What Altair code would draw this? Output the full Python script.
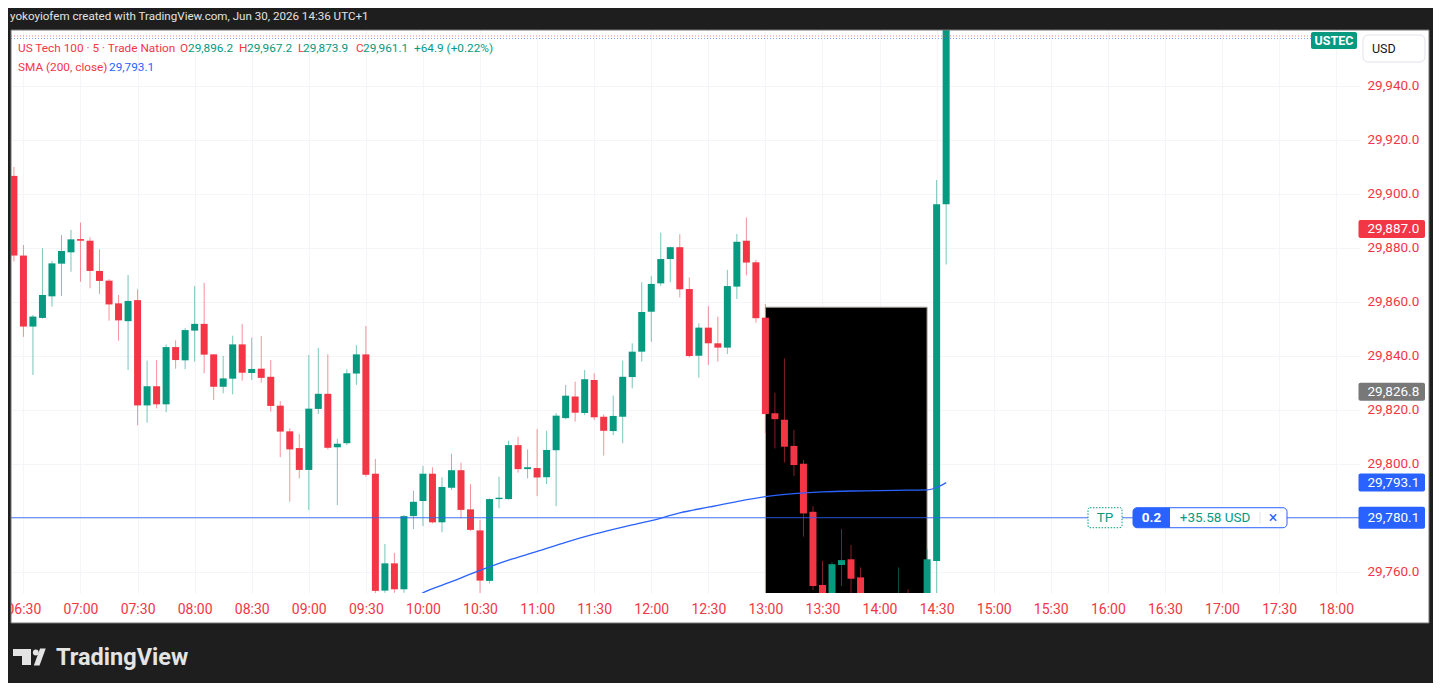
import altair as alt
import pandas as pd

# ------------------------------------------------------------------ data
times = ["06:25", "06:30", "06:35", "06:40", "06:45", "06:50", "06:55", "07:00", "07:05", "07:10",
         "07:15", "07:20", "07:25", "07:30", "07:35", "07:40", "07:45", "07:50", "07:55", "08:00",
         "08:05", "08:10", "08:15", "08:20", "08:25", "08:30", "08:35", "08:40", "08:45", "08:50",
         "08:55", "09:00", "09:05", "09:10", "09:15", "09:20", "09:25", "09:30", "09:35", "09:40",
         "09:45", "09:50", "09:55", "10:00", "10:05", "10:10", "10:15", "10:20", "10:25", "10:30",
         "10:35", "10:40", "10:45", "10:50", "10:55", "11:00", "11:05", "11:10", "11:15", "11:20",
         "11:25", "11:30", "11:35", "11:40", "11:45", "11:50", "11:55", "12:00", "12:05", "12:10",
         "12:15", "12:20", "12:25", "12:30", "12:35", "12:40", "12:45", "12:50", "12:55", "13:00",
         "13:05", "13:10", "13:15", "13:20", "13:25", "13:30", "13:35", "13:40", "13:45", "13:50",
         "13:55", "14:00", "14:05", "14:10", "14:15", "14:20", "14:25", "14:30", "14:35"]
opens = [29906.7, 29877.2, 29850.9, 29854.1, 29862.1, 29874.2, 29878.4, 29883.3, 29882.7, 29871.5,
         29867.9, 29859.5, 29852.9, 29860.7, 29821.7, 29828.8, 29822.1, 29843.3, 29838.4, 29849.4,
         29851.9, 29840.6, 29828.6, 29831.6, 29844.3, 29833.7, 29835.3, 29832.3, 29821.6, 29812.1,
         29805.9, 29797.8, 29820.4, 29826.0, 29806.2, 29807.7, 29833.5, 29840.6, 29796.4, 29753.1,
         29763.2, 29753.6, 29780.7, 29786.3, 29796.4, 29778.4, 29791.2, 29797.7, 29783.2, 29775.4,
         29756.7, 29787.0, 29787.0, 29807.0, 29798.1, 29798.5, 29795.1, 29805.1, 29817.0, 29825.0,
         29818.9, 29831.1, 29817.5, 29812.2, 29817.5, 29832.2, 29841.6, 29856.4, 29866.9, 29875.9,
         29880.3, 29864.8, 29840.1, 29850.5, 29844.7, 29843.1, 29865.7, 29882.7, 29874.7, 29854.2,
         29818.8, 29816.4, 29806.7, 29800.1, 29782.3, 29755.2, 29742.5, 29762.6, 29764.7, 29758.0,
         29744.0, 29732.0, 29740.0, 29736.0, 29750.0, 29742.0, 29745.0, 29764.1, 29896.2]
highs = [29910.0, 29881.1, 29855.2, 29879.9, 29875.2, 29884.8, 29886.7, 29889.4, 29884.0, 29879.5,
         29868.5, 29862.6, 29870.0, 29864.7, 29838.3, 29838.5, 29844.3, 29845.8, 29850.3, 29865.9,
         29867.1, 29840.7, 29840.0, 29847.5, 29851.9, 29846.8, 29847.4, 29838.5, 29823.3, 29813.2,
         29811.1, 29840.4, 29843.0, 29840.6, 29809.3, 29835.1, 29844.0, 29851.1, 29801.9, 29770.4,
         29767.1, 29781.1, 29790.1, 29799.3, 29798.8, 29795.1, 29803.8, 29800.5, 29792.5, 29779.3,
         29787.2, 29795.3, 29808.6, 29810.1, 29805.4, 29812.9, 29812.3, 29818.8, 29829.3, 29830.5,
         29834.8, 29833.6, 29818.3, 29825.3, 29838.3, 29844.7, 29867.3, 29869.6, 29885.7, 29880.5,
         29885.1, 29869.1, 29852.1, 29858.5, 29854.6, 29871.9, 29885.2, 29891.3, 29875.6, 29859.3,
         29826.4, 29839.1, 29812.6, 29801.5, 29784.4, 29764.1, 29763.6, 29775.9, 29770.0, 29761.7,
         29750.0, 29745.0, 29748.0, 29761.7, 29753.6, 29749.0, 29768.4, 29905.2, 29967.2]
lows = [29875.0, 29847.1, 29833.0, 29853.8, 29858.3, 29862.2, 29871.2, 29867.5, 29865.1, 29863.0,
        29853.1, 29845.7, 29834.8, 29814.4, 29815.3, 29820.6, 29819.1, 29835.3, 29835.1, 29837.9,
        29833.6, 29823.7, 29826.2, 29825.8, 29830.9, 29831.1, 29830.1, 29819.4, 29802.5, 29786.0,
        29794.7, 29783.0, 29818.5, 29805.4, 29784.8, 29807.0, 29829.3, 29795.3, 29751.5, 29752.3,
        29752.3, 29752.3, 29775.9, 29777.0, 29778.0, 29774.7, 29790.4, 29779.9, 29775.2, 29751.0,
        29755.8, 29783.6, 29786.8, 29796.8, 29794.7, 29788.1, 29792.6, 29784.4, 29816.6, 29815.7,
        29818.1, 29816.3, 29803.1, 29810.7, 29807.7, 29828.0, 29837.9, 29845.3, 29866.0, 29867.3,
        29861.7, 29839.5, 29832.0, 29836.7, 29837.9, 29840.7, 29861.1, 29869.9, 29852.3, 29811.4,
        29805.8, 29800.5, 29795.6, 29773.1, 29753.3, 29738.0, 29740.0, 29754.8, 29750.5, 29740.0,
        29728.0, 29725.0, 29733.0, 29734.0, 29738.0, 29735.0, 29740.0, 29748.0, 29873.9]
closes = [29877.2, 29850.9, 29854.6, 29862.6, 29874.3, 29878.9, 29883.2, 29882.7, 29871.5, 29867.8,
          29859.1, 29853.2, 29860.4, 29821.7, 29828.8, 29822.1, 29843.3, 29838.5, 29849.6, 29851.9,
          29840.5, 29828.6, 29831.7, 29844.3, 29833.8, 29835.2, 29831.9, 29821.5, 29812.0, 29805.4,
          29797.8, 29820.5, 29826.0, 29806.0, 29807.5, 29833.6, 29840.6, 29796.0, 29753.0, 29763.2,
          29753.6, 29780.7, 29786.0, 29796.4, 29778.4, 29791.5, 29797.7, 29783.0, 29775.6, 29756.8,
          29787.0, 29787.5, 29807.0, 29798.1, 29798.8, 29795.0, 29805.2, 29817.9, 29825.3, 29819.0,
          29831.4, 29817.3, 29812.3, 29817.8, 29832.3, 29841.6, 29856.3, 29866.7, 29875.9, 29880.3,
          29864.7, 29840.0, 29850.5, 29844.7, 29843.1, 29865.9, 29882.3, 29874.6, 29854.0, 29818.5,
          29816.6, 29806.4, 29799.6, 29781.7, 29754.8, 29742.5, 29762.9, 29764.4, 29757.5, 29744.0,
          29732.0, 29740.0, 29736.0, 29750.0, 29742.0, 29745.0, 29764.7, 29896.2, 29961.1]

sma_times = ["09:55", "10:00", "10:15", "10:30", "10:45", "11:00", "11:15", "11:30", "11:45", "12:00",
             "12:15", "12:30", "12:45", "13:00", "13:15", "13:30", "13:45", "14:00", "14:15", "14:25",
             "14:30", "14:35"]
sma_values = [29750.4, 29752.3, 29756.4, 29760.6, 29764.4, 29767.6, 29771.0, 29774.0, 29776.6, 29779.0,
              29781.9, 29784.0, 29786.1, 29787.9, 29789.0, 29789.7, 29790.0, 29790.1, 29790.3, 29790.4,
              29791.3, 29793.1]

x_ticks = ["06:30", "07:00", "07:30", "08:00", "08:30", "09:00", "09:30", "10:00", "10:30", "11:00",
           "11:30", "12:00", "12:30", "13:00", "13:30", "14:00", "14:30", "15:00", "15:30", "16:00",
           "16:30", "17:00", "17:30", "18:00"]
y_ticks = [29760, 29780, 29800, 29820, 29840, 29860, 29880, 29900, 29920, 29940]

box_times = ["13:00", "14:25"]
box_prices = [29858.1, 29740.0]

tag_prices = [29887.0, 29826.8, 29793.1, 29780.1]
tag_kinds = ["alert", "mark", "sma", "order"]

order_price = 29780.1
order_qty = "0.2"
order_pnl = "+35.58 USD"

header_text = "yokoyiofem created with TradingView.com, Jun 30, 2026 14:36 UTC+1"
symbol_text = "US Tech 100 \u00b7 5 \u00b7 Trade Nation"
sma_text = "SMA (200, close)"

# ------------------------------------------------------------------ style
RED, GREEN, BLUE, DARK = "#f23645", "#089981", "#2962ff", "#1e1e1e"
FONT = "Roboto"
LEG = 11.8
GRID = "#f4f5f8"
W, H = 1349, 563
X_DOM = [386.1, 1089.9]
Y_DOM = [29752.22, 29960.74]
PPT = H / (Y_DOM[1] - Y_DOM[0])


def tmin(s):
    h, m = s.split(":")
    return int(h) * 60 + int(m)


cdf = pd.DataFrame({"t": [tmin(s) for s in times], "o": opens, "h": highs, "l": lows, "c": closes})
cdf["dir"] = ["up" if c >= o else "down" for o, c in zip(opens, closes)]
sdf = pd.DataFrame({"t": [tmin(s) for s in sma_times], "v": sma_values})
bdf = pd.DataFrame({"t0": [tmin(box_times[0])], "t1": [tmin(box_times[1])],
                    "p0": [box_prices[0]], "p1": [box_prices[1]]})

tag_color = {"alert": RED, "mark": "#787878", "sma": BLUE, "order": BLUE}
tag_h = {"alert": 18, "mark": 18, "sma": 18, "order": 22}
tdf = pd.DataFrame({"p": tag_prices, "kind": tag_kinds})
tdf["col"] = [tag_color[k] for k in tag_kinds]
tdf["top"] = [p + tag_h[k] / 2 / PPT for p, k in zip(tag_prices, tag_kinds)]
tdf["bot"] = [p - tag_h[k] / 2 / PPT for p, k in zip(tag_prices, tag_kinds)]
tdf["label"] = [f"{p:,.1f}" for p in tag_prices]

odf = pd.DataFrame({"p": [order_price], "top": [order_price + 10 / PPT], "bot": [order_price - 10 / PPT],
                    "stop": [order_price + 6 / PPT], "sbot": [order_price - 6 / PPT]})

one = pd.DataFrame({"k": [0]})

xs = alt.Scale(domain=X_DOM, nice=False, zero=False)
ys = alt.Scale(domain=Y_DOM, nice=False, zero=False)
dir_scale = alt.Scale(domain=["up", "down"], range=[GREEN, RED])

x_axis = alt.Axis(values=[tmin(s) for s in x_ticks],
                  labelExpr="(datum.value < 600 ? '0' : '') + floor(datum.value / 60) + ':' + (datum.value % 60 == 0 ? '00' : '30')",
                  labelColor=RED, labelFont=FONT, labelFontSize=14, labelBaseline="middle",
                  labelPadding=16, ticks=True, tickSize=0, domain=False, grid=True,
                  gridColor=GRID, title=None, labelFlush=False, labelOverlap=False)
y_axis = alt.Axis(orient="right", values=y_ticks, format=",.1f", labelColor=RED, labelFont=FONT,
                  labelFontSize=13.5, labelAlign="left", labelBaseline="middle", labelPadding=7,
                  ticks=True, tickSize=0, domain=False, grid=True, gridColor=GRID,
                  title=None, labelOverlap=False)


def X(f):
    return alt.X(f, type="quantitative", scale=xs, axis=x_axis)


def Y(f):
    return alt.Y(f, type="quantitative", scale=ys, axis=y_axis)


def prect(x, x2, y, y2, **mk):
    return alt.Chart(one).mark_rect(**mk).encode(x=alt.value(x), x2=alt.value(x2),
                                                 y=alt.value(y), y2=alt.value(y2))


def ptext(x, y, s, **mk):
    base = dict(font=FONT, fontSize=LEG, align="left", baseline="middle")
    base.update(mk)
    return alt.Chart(one).mark_text(text=s, **base).encode(x=alt.value(x), y=alt.value(y))


# ------------------------------------------------------------------ layers
box = alt.Chart(bdf).mark_rect(color="black", stroke="#b3aca3", strokeWidth=1, clip=True).encode(
    x=X("t0"), x2="t1", y=Y("p0"), y2="p1")

wicks = alt.Chart(cdf).mark_rule(strokeWidth=1, opacity=0.55, clip=True).encode(
    x=X("t"), y=Y("l"), y2="h", color=alt.Color("dir:N", scale=dir_scale, legend=None))

bodies = alt.Chart(cdf).mark_bar(size=7, clip=True).encode(
    x=X("t"), y=Y("o"), y2="c", color=alt.Color("dir:N", scale=dir_scale, legend=None))

sma = alt.Chart(sdf).mark_line(color=BLUE, strokeWidth=1.3, clip=True, interpolate="monotone").encode(
    x=X("t"), y=Y("v"))

hline = alt.Chart(odf).mark_rule(color=BLUE, strokeWidth=1, opacity=0.85).encode(y=Y("p"))

dots_r = alt.Chart(one).mark_rule(color=RED, strokeDash=[1, 2], opacity=0.6).encode(
    x=alt.value(0), x2=alt.value(1300), y=alt.value(6))
dots_b = alt.Chart(one).mark_rule(color=BLUE, strokeDash=[1, 2], opacity=0.6).encode(
    x=alt.value(0), x2=alt.value(1300), y=alt.value(8.5))

# order line widgets
tp_box = alt.Chart(odf).mark_rect(fill="white", stroke=GREEN, strokeDash=[1.5, 1.5], strokeWidth=1,
                                  cornerRadius=2).encode(
    x=alt.value(1077), x2=alt.value(1111), y=Y("top"), y2="bot")
tp_text = alt.Chart(odf).mark_text(text="TP", font=FONT, fontSize=13.5, color=GREEN, baseline="middle").encode(
    x=alt.value(1094), y=Y("p"))
ord_box = alt.Chart(odf).mark_rect(fill="white", stroke=BLUE, strokeWidth=1, cornerRadius=4).encode(
    x=alt.value(1122), x2=alt.value(1276), y=Y("top"), y2="bot")
ord_qbox = alt.Chart(odf).mark_rect(fill=BLUE, cornerRadiusTopLeft=4, cornerRadiusBottomLeft=4).encode(
    x=alt.value(1122), x2=alt.value(1159), y=Y("top"), y2="bot")
ord_q = alt.Chart(odf).mark_text(text=order_qty, font=FONT, fontSize=13.5, fontWeight="bold",
                                 color="white", baseline="middle").encode(x=alt.value(1140.5), y=Y("p"))
ord_pnl = alt.Chart(odf).mark_text(text=order_pnl, font=FONT, fontSize=13.5, color=GREEN,
                                   baseline="middle").encode(x=alt.value(1204), y=Y("p"))
ord_sep = alt.Chart(odf).mark_rule(color="#e0e3eb", strokeWidth=1).encode(
    x=alt.value(1249), y=Y("stop"), y2="sbot")
ord_x = alt.Chart(odf).mark_text(text="\u00d7", font=FONT, fontSize=16, color=BLUE,
                                 baseline="middle").encode(x=alt.value(1262), y=Y("p"))

# price tags on the right scale
tags = alt.Chart(tdf).mark_rect(cornerRadius=2).encode(
    x=alt.value(1347.5), x2=alt.value(1414), y=Y("top"), y2="bot",
    color=alt.Color("col:N", scale=None))
tag_txt = alt.Chart(tdf).mark_text(font=FONT, fontSize=13.5, color="white", align="left",
                                   baseline="middle").encode(
    x=alt.value(1356.5), y=Y("p"), text="label:N")

ustec_box = prect(1300, 1346, 2, 19, color=GREEN, cornerRadius=2)
ustec_txt = ptext(1323, 10.5, "USTEC", color="white", fontWeight="bold", fontSize=12.5, align="center")
usd_box = prect(1352, 1414, 5, 32, fill="white", stroke="#e0e3eb", strokeWidth=1, cornerRadius=5)
usd_txt = ptext(1361, 19, "USD", color="#131722", fontSize=12.5)

# dark frame around the white panel
frame = [
    prect(-3, 1422, -22, 0, color=DARK),
    prect(-3, 0, -22, 653, color=DARK),
    prect(-3, 1422, 593, 653, color=DARK),
    prect(1418, 1422, -22, 653, color=DARK),
    prect(0, 1418, 0, 593, fillOpacity=0, stroke="#777777", strokeWidth=1),
]

# legend texts built from the last bar
o_, h_, l_, c_ = opens[-1], highs[-1], lows[-1], closes[-1]
chg = c_ - closes[-2]
pct = chg / closes[-2] * 100
legend = [
    ptext(-1, -13, header_text, color="#e2e2e2", fontSize=11.6),
    ptext(7, 18, symbol_text, color=RED),
    ptext(169, 18, "O", color=RED), ptext(177, 18, f"{o_:,.1f}", color=GREEN),
    ptext(228, 18, "H", color=RED), ptext(236, 18, f"{h_:,.1f}", color=GREEN),
    ptext(287, 18, "L", color=RED), ptext(292, 18, f"{l_:,.1f}", color=GREEN),
    ptext(345, 18, "C", color=RED), ptext(352, 18, f"{c_:,.1f}", color=GREEN),
    ptext(403, 18, f"{chg:+.1f} ({pct:+.2f}%)", color=GREEN),
    ptext(7, 37, sma_text, color=RED),
    ptext(98, 37, f"{sma_values[-1]:,.1f}", color=BLUE),
]

# TradingView logo
LOGO = "#e4e4e4"
logo = [
    prect(2, 20, 619, 626, color=LOGO),
    prect(11, 20, 619, 635, color=LOGO),
    alt.Chart(one).mark_circle(size=34, color=LOGO, opacity=1).encode(x=alt.value(24.8), y=alt.value(622.5)),
    alt.Chart(one).mark_point(shape="M0.03,-1L0.7,-1L-0.03,1L-0.7,1Z", filled=True, size=289,
                              color=LOGO, opacity=1, strokeWidth=0).encode(x=alt.value(28.8), y=alt.value(627)),
    ptext(45, 628, "TradingView", color=LOGO, fontSize=23.5, fontWeight="bold"),
]

chart = alt.layer(
    box, wicks, bodies, sma, hline, dots_r, dots_b,
    tp_box, tp_text, ord_box, ord_qbox, ord_q, ord_pnl, ord_sep, ord_x,
    tags, tag_txt, ustec_box, ustec_txt, usd_box, usd_txt,
    *frame, *legend, *logo,
).properties(
    width=W, height=H,
    padding={"left": 3, "top": 22, "right": 73, "bottom": 90},
    autosize=alt.AutoSizeParams(type="none"),
    background="white",
).configure_view(strokeWidth=0, fill="white")

chart.save("out.html", embed_options={"renderer": "svg", "actions": False})
